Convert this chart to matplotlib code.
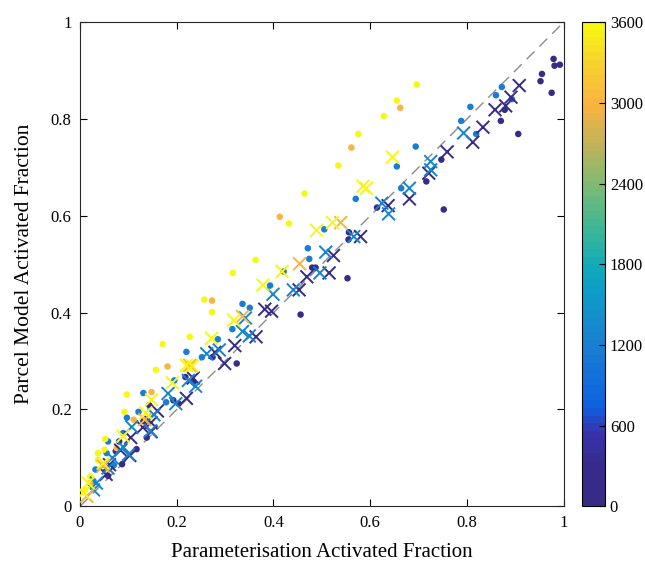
import numpy as np
import matplotlib
matplotlib.use("Agg")
from matplotlib import pyplot as plt
from matplotlib.colors import LinearSegmentedColormap


# parula-like colormap
cmap_pos = [0.0, 0.08, 0.15, 0.2, 0.33, 0.45, 0.5, 0.58, 0.667, 0.75, 0.833, 0.92, 1.0]
cmap_rgb = [
    (0.21, 0.17, 0.52),
    (0.21, 0.17, 0.55),
    (0.22, 0.20, 0.68),
    (0.05, 0.38, 0.88),
    (0.10, 0.50, 0.82),
    (0.05, 0.62, 0.78),
    (0.07, 0.67, 0.72),
    (0.25, 0.72, 0.58),
    (0.50, 0.73, 0.45),
    (0.75, 0.70, 0.35),
    (0.98, 0.70, 0.25),
    (0.97, 0.82, 0.18),
    (0.97, 0.97, 0.07),
]
parula = LinearSegmentedColormap.from_list("parula", list(zip(cmap_pos, cmap_rgb)), N=64)

# circles: parcel model vs parameterisation, grouped by colour value
dots_dark_x = [0.979, 0.981, 0.992, 0.955, 0.952, 0.975, 0.870, 0.906, 0.878, 0.752,
               0.747, 0.716, 0.614, 0.556, 0.555, 0.553, 0.480, 0.487, 0.456, 0.324,
               0.274, 0.218, 0.235, 0.193, 0.204, 0.143, 0.131, 0.138, 0.117, 0.081,
               0.074, 0.087, 0.058]
dots_dark_y = [0.924, 0.910, 0.912, 0.893, 0.878, 0.854, 0.796, 0.769, 0.819, 0.613,
               0.716, 0.671, 0.617, 0.566, 0.551, 0.471, 0.493, 0.493, 0.396, 0.295,
               0.308, 0.267, 0.257, 0.219, 0.212, 0.209, 0.176, 0.142, 0.118, 0.134,
               0.114, 0.087, 0.063]
dots_blue_x = [0.872, 0.860, 0.893, 0.807, 0.788, 0.819, 0.694, 0.655, 0.664, 0.570,
               0.505, 0.471, 0.474, 0.421, 0.393, 0.336, 0.351, 0.315, 0.285, 0.220,
               0.252, 0.195, 0.178, 0.131, 0.121, 0.097, 0.089, 0.058, 0.055, 0.070,
               0.032, 0.028]
dots_blue_y = [0.866, 0.849, 0.841, 0.825, 0.796, 0.769, 0.743, 0.702, 0.657, 0.635,
               0.572, 0.533, 0.511, 0.485, 0.456, 0.418, 0.410, 0.366, 0.345, 0.319,
               0.308, 0.260, 0.215, 0.234, 0.195, 0.183, 0.151, 0.134, 0.110, 0.085,
               0.076, 0.052]
dots_orange_x = [0.662, 0.561, 0.413, 0.273, 0.181, 0.148, 0.111, 0.076, 0.021]
dots_orange_y = [0.823, 0.741, 0.598, 0.425, 0.289, 0.236, 0.179, 0.120, 0.048]
dots_yellow_x = [0.696, 0.655, 0.628, 0.575, 0.534, 0.464, 0.432, 0.363, 0.316, 0.257,
                 0.273, 0.227, 0.171, 0.157, 0.097, 0.092, 0.052, 0.051, 0.037, 0.037,
                 0.021, 0.010]
dots_yellow_y = [0.871, 0.838, 0.806, 0.769, 0.704, 0.646, 0.584, 0.509, 0.482, 0.427,
                 0.401, 0.350, 0.335, 0.282, 0.231, 0.195, 0.139, 0.117, 0.110, 0.096,
                 0.062, 0.034]

# crosses
x_dark_x = [0.908, 0.891, 0.880, 0.858, 0.833, 0.812, 0.759, 0.721, 0.681, 0.637,
            0.580, 0.524, 0.515, 0.469, 0.453, 0.396, 0.382, 0.364, 0.320, 0.279,
            0.299, 0.234, 0.220, 0.160, 0.147, 0.130, 0.147, 0.105, 0.103, 0.084,
            0.061, 0.054]
x_dark_y = [0.869, 0.845, 0.827, 0.819, 0.783, 0.752, 0.732, 0.688, 0.635, 0.621,
            0.557, 0.518, 0.482, 0.474, 0.447, 0.403, 0.407, 0.350, 0.332, 0.318,
            0.295, 0.265, 0.223, 0.197, 0.173, 0.163, 0.154, 0.142, 0.105, 0.116,
            0.086, 0.066]
x_blue_x = [0.793, 0.725, 0.725, 0.681, 0.624, 0.638, 0.566, 0.508, 0.496, 0.441,
            0.399, 0.342, 0.336, 0.350, 0.288, 0.262, 0.239, 0.224, 0.182, 0.198,
            0.153, 0.107, 0.146, 0.089, 0.100, 0.067, 0.058, 0.034, 0.028]
x_blue_y = [0.771, 0.712, 0.695, 0.657, 0.626, 0.604, 0.557, 0.525, 0.482, 0.447,
            0.438, 0.389, 0.361, 0.352, 0.323, 0.315, 0.248, 0.260, 0.233, 0.212,
            0.189, 0.164, 0.156, 0.123, 0.107, 0.100, 0.079, 0.048, 0.034]
x_orange_x = [0.539, 0.454, 0.336, 0.227, 0.134, 0.048, 0.014]
x_orange_y = [0.586, 0.501, 0.392, 0.291, 0.179, 0.083, 0.021]
x_yellow_x = [0.646, 0.585, 0.592, 0.522, 0.489, 0.418, 0.378, 0.318, 0.272, 0.220,
              0.232, 0.191, 0.148, 0.136, 0.089, 0.048, 0.017, 0.007]
x_yellow_y = [0.721, 0.661, 0.657, 0.586, 0.570, 0.485, 0.457, 0.384, 0.347, 0.291,
              0.290, 0.255, 0.220, 0.193, 0.145, 0.089, 0.048, 0.028]

# colour value of each group
val_dark = 60
val_blue_dot = 1150
val_blue_x = 1250
val_orange = 3000
val_yellow = 3600

cticks = [0, 600, 1200, 1800, 2400, 3000, 3600]
ticks = [0, 0.2, 0.4, 0.6, 0.8, 1]
tick_labels = ["0", "0.2", "0.4", "0.6", "0.8", "1"]

plt.rcParams['font.family'] = ['Liberation Serif', 'DejaVu Serif']
plt.rcParams['font.size'] = 12

fig = plt.figure(figsize=(6.45, 5.67), dpi=100)
ax = fig.add_axes([0.124, 0.107, 0.750, 0.854])
cax = fig.add_axes([0.902, 0.107, 0.036, 0.854])

ax.plot([0, 1], [0, 1], '--', color='#8c8c8c', lw=1.0, dashes=(8, 5), zorder=1)

dot_groups = [(dots_dark_x, dots_dark_y, val_dark),
              (dots_blue_x, dots_blue_y, val_blue_dot),
              (dots_orange_x, dots_orange_y, val_orange),
              (dots_yellow_x, dots_yellow_y, val_yellow)]
x_groups = [(x_dark_x, x_dark_y, val_dark),
            (x_blue_x, x_blue_y, val_blue_x),
            (x_orange_x, x_orange_y, val_orange),
            (x_yellow_x, x_yellow_y, val_yellow)]

sc = None
for gx, gy, v in dot_groups:
    sc = ax.scatter(gx, gy, c=[v] * len(gx), cmap=parula, vmin=0, vmax=3600,
                    s=22, marker='o', linewidths=0, zorder=2)
for gx, gy, v in x_groups:
    ax.scatter(gx, gy, c=[v] * len(gx), cmap=parula, vmin=0, vmax=3600,
               s=85, marker='x', linewidths=1.4, zorder=3)

ax.set_xlim(0, 1)
ax.set_ylim(0, 1)
ax.set_xticks(ticks)
ax.set_xticklabels(tick_labels)
ax.set_yticks(ticks)
ax.set_yticklabels(tick_labels)
ax.tick_params(direction='in', top=True, right=True, length=5, width=0.8, pad=6)
for sp in ax.spines.values():
    sp.set_linewidth(0.8)
    sp.set_color('#262626')
ax.set_xlabel("Parameterisation Activated Fraction", fontsize=15, labelpad=9)
ax.set_ylabel("Parcel Model Activated Fraction", fontsize=15.5, labelpad=12)

cb = fig.colorbar(sc, cax=cax, ticks=cticks)
cb.ax.tick_params(direction='in', length=4, width=0.8, labelsize=12)
cb.outline.set_linewidth(0.8)

fig.savefig("out.png", dpi=100)
